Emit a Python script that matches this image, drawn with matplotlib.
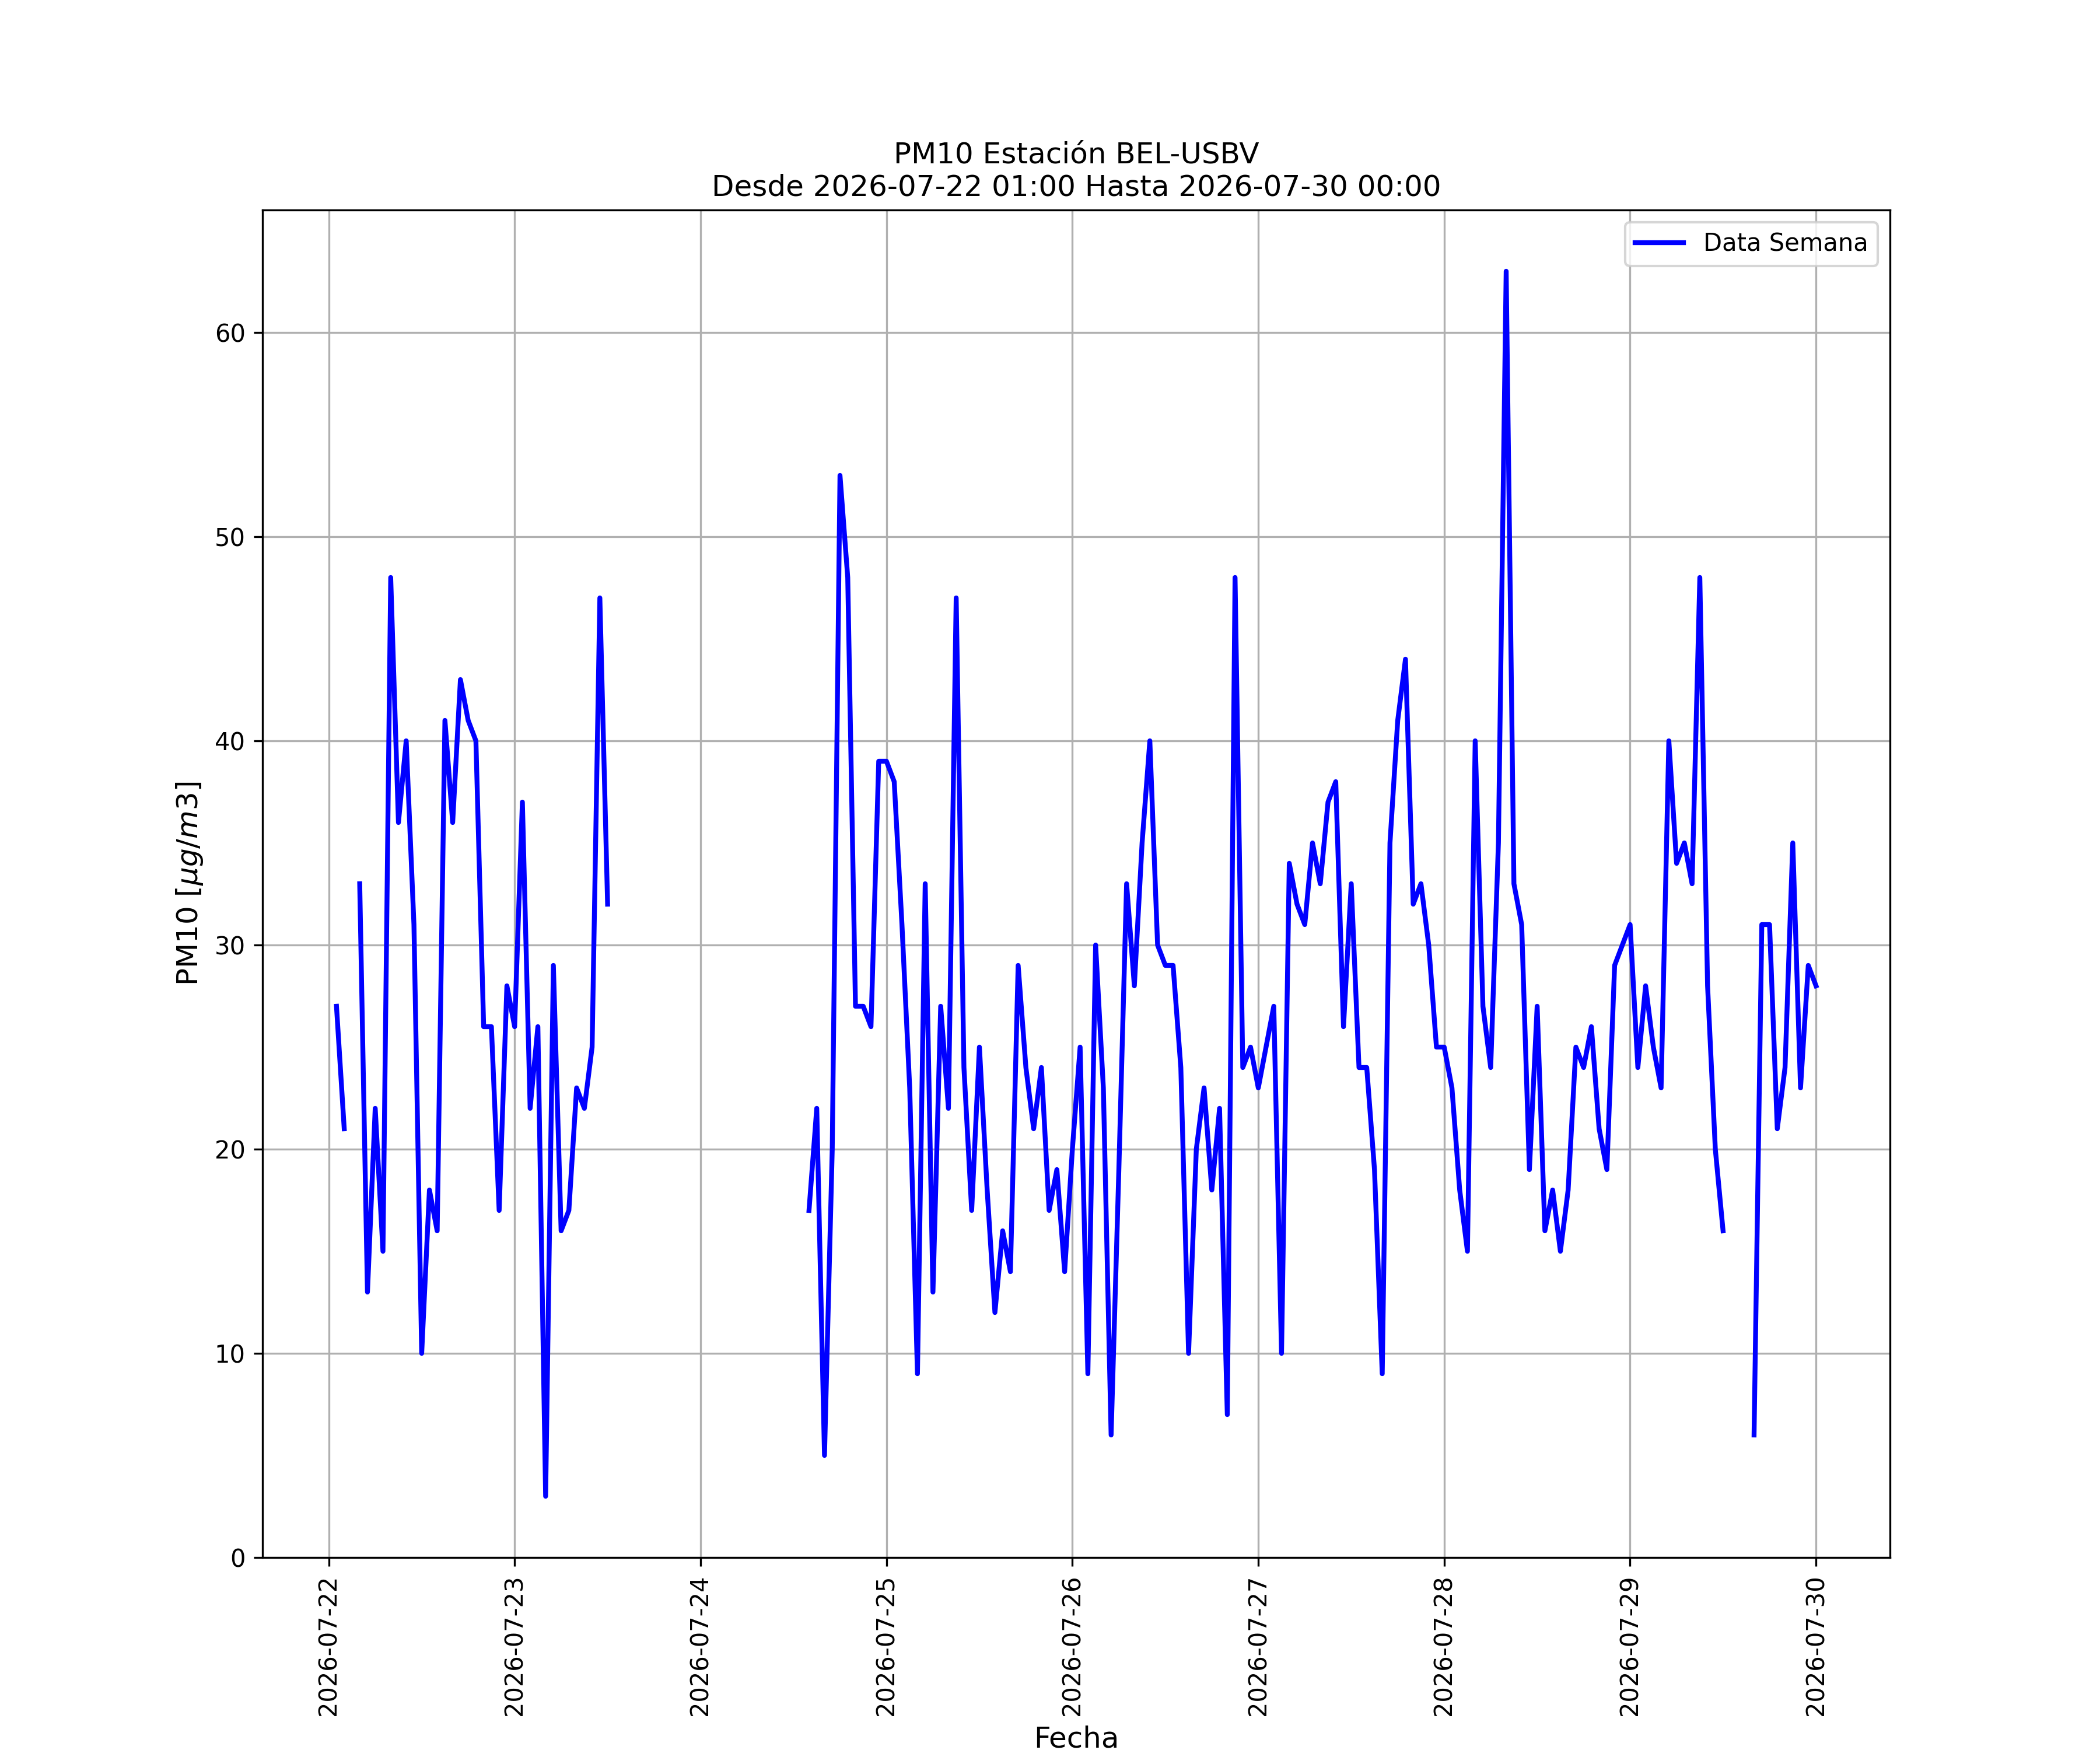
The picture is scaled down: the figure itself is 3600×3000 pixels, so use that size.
import numpy as np
import pandas as pd
import matplotlib
matplotlib.use("Agg")
import matplotlib.pyplot as plt
import matplotlib.dates as mdates

nan = np.nan

# Hourly PM10 values (µg/m3); NaN = missing
day22 = [27, 21, nan, 33, 13, 22, 15, 48, 36, 40, 31, 10, 18, 16, 41, 36, 43, 41, 40, 26, 26, 17, 28]  # 01:00-23:00
day23 = [26, 37, 22, 26, 3, 29, 16, 17, 23, 22, 25, 47, 32] + [nan] * 11
day24 = [nan] * 14 + [17, 22, 5, 20, 53, 48, 27, 27, 26, 39]
day25 = [39, 38, 31, 23, 9, 33, 13, 27, 22, 47, 24, 17, 25, 18, 12, 16, 14, 29, 24, 21, 24, 17, 19, 14]
day26 = [20, 25, 9, 30, 23, 6, 19, 33, 28, 35, 40, 30, 29, 29, 24, 10, 20, 23, 18, 22, 7, 48, 24, 25]
day27 = [23, 25, 27, 10, 34, 32, 31, 35, 33, 37, 38, 26, 33, 24, 24, 19, 9, 35, 41, 44, 32, 33, 30, 25]
day28 = [25, 23, 18, 15, 40, 27, 24, 35, 63, 33, 31, 19, 27, 16, 18, 15, 18, 25, 24, 26, 21, 19, 29, 30]
day29 = [31, 24, 28, 25, 23, 40, 34, 35, 33, 48, 28, 20, 16, nan, nan, nan, 6, 31, 31, 21, 24, 35, 23, 29]
day30 = [28]

values = np.array(day22 + day23 + day24 + day25 + day26 + day27 + day28 + day29 + day30, dtype=float)
fechas = pd.date_range("2026-07-22 01:00", periods=len(values), freq="h")

title = "PM10 Estación BEL-USBV\nDesde 2026-07-22 01:00 Hasta 2026-07-30 00:00"

fig, ax = plt.subplots(figsize=(12, 10), dpi=300)
ax.plot(fechas, values, color="blue", linewidth=2, label="Data Semana")
ax.set_title(title, fontsize=12)
ax.set_xlabel("Fecha", fontsize=12)
ax.set_ylabel(r"PM10 [$\mu g/m3$]", fontsize=12)
ax.xaxis.set_major_locator(mdates.DayLocator())
ax.xaxis.set_major_formatter(mdates.DateFormatter("%Y-%m-%d"))
plt.setp(ax.get_xticklabels(), rotation=90)
ax.set_ylim(bottom=0)
ax.grid(True)
ax.legend(loc="upper right")
fig.savefig("out.png", dpi=300)
